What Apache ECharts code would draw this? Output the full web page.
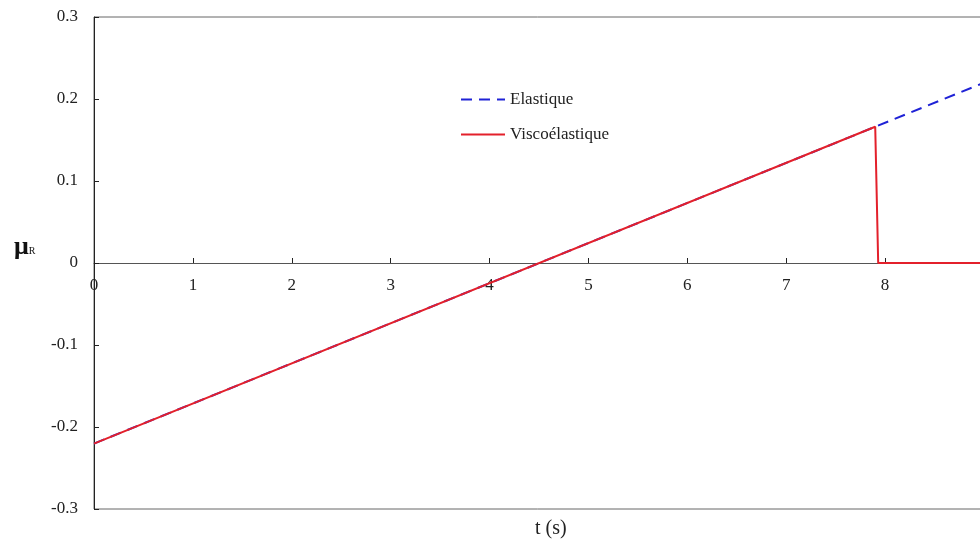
<!DOCTYPE html>
<html><head><meta charset="utf-8">
<script src="https://cdn.jsdelivr.net/npm/echarts@6/dist/echarts.min.js"></script>
<style>html,body{margin:0;padding:0;background:#fff}#c{width:980px;height:546px}</style>
</head><body><div id="c"></div>
<script>
const seriesNames = ['Elastique', 'Viscoélastique'];
const elastiqueData = [[0, -0.2202], [9, 0.2199]];
const viscoData = [[0, -0.2202], [7.90, 0.1662], [7.93, 0], [9, 0]];
const xTicks = [0, 1, 2, 3, 4, 5, 6, 7, 8, 9];
const yTicks = [-0.3, -0.2, -0.1, 0, 0.1, 0.2, 0.3];
const xTitle = 't (s)';

const font = 'Liberation Serif';
const chart = echarts.init(document.getElementById('c'), null, {renderer: 'canvas'});
chart.setOption({
  animation: false,
  backgroundColor: '#fff',
  grid: {left: 94, top: 17, bottom: 37, right: -4, containLabel: false, outerBoundsMode: 'none',
         show: true, borderColor: '#666', borderWidth: 1, backgroundColor: 'transparent'},
  legend: {
    orient: 'vertical', left: 455, top: 86, itemWidth: 44, itemHeight: 14, itemGap: 18,
    itemStyle: {opacity: 0},
    textStyle: {fontFamily: font, fontSize: 17, color: '#222'},
    data: seriesNames
  },
  xAxis: {
    type: 'value', min: xTicks[0], max: xTicks[xTicks.length - 1], interval: 1,
    axisLine: {onZero: false, lineStyle: {color: '#555', width: 1}},
    offset: -246,
    axisTick: {inside: true, length: 5, lineStyle: {color: '#222'}},
    axisLabel: {fontFamily: font, fontSize: 17, color: '#222', margin: 14, formatter: v => String(v)},
    splitLine: {show: false}
  },
  yAxis: {
    type: 'value', min: yTicks[0], max: yTicks[yTicks.length - 1], interval: 0.1,
    axisLine: {show: true, lineStyle: {color: '#222', width: 1}},
    axisTick: {show: true, inside: true, length: 5, lineStyle: {color: '#222'}},
    axisLabel: {fontFamily: font, fontSize: 17, color: '#222', margin: 16,
      formatter: v => { const r = Math.round(v * 10) / 10; return r === 0 ? '0' : String(r); }},
    splitLine: {show: false}
  },
  graphic: [
    {type: 'text', left: 535, top: 519, style: {text: xTitle, font: '20px "Liberation Serif"', fill: '#222'}},
    {type: 'text', left: 14, top: 234, style: {
      text: '{m|μ}{r|R}', fill: '#111',
      rich: {m: {fontFamily: font, fontSize: 26, fontWeight: 'bold', color: '#111'},
             r: {fontFamily: font, fontSize: 10, color: '#111', padding: [8, 0, 0, 0]}}
    }}
  ],
  series: [
    {name: seriesNames[0], type: 'line', data: elastiqueData, symbol: 'none', z: 2,
     lineStyle: {color: '#1f22d6', width: 2, type: [11, 7]}, itemStyle: {color: '#1f22d6'}},
    {name: seriesNames[1], type: 'line', data: viscoData, symbol: 'none', z: 3,
     lineStyle: {color: '#e3202b', width: 2}, itemStyle: {color: '#e3202b'}}
  ]
});
</script></body></html>
